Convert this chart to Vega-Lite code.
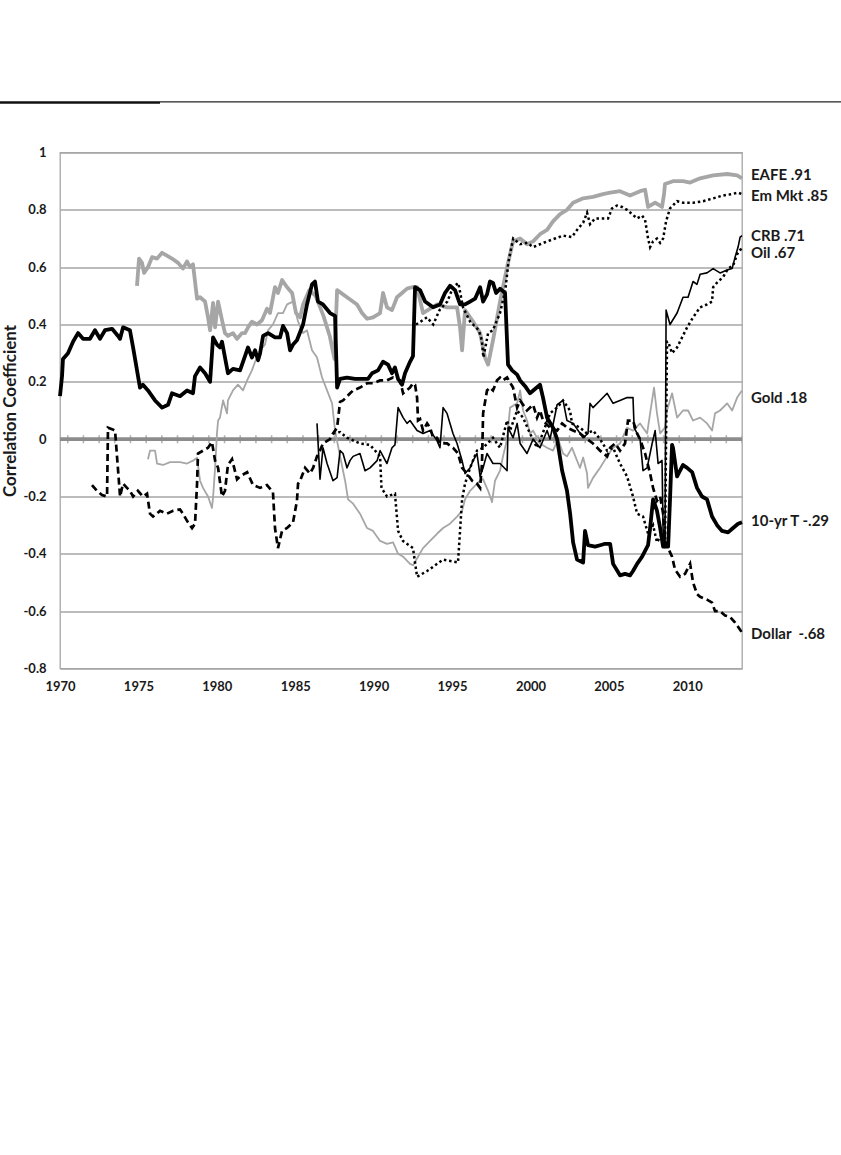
{
  "$schema": "https://vega.github.io/schema/vega-lite/v6.json",
  "background": "white",
  "padding": {"left": 0, "top": 98.3, "right": 0, "bottom": 0},
  "config": {
    "view": {"stroke": null},
    "font": "Lato",
    "axis": {"ticks": false, "domain": false, "labelFont": "Lato", "labelFontWeight": "bold", "labelFontSize": 13, "labelColor": "#1a1a1a", "titleFont": "Lato", "titleFontWeight": "bold", "titleFontSize": 17, "titleColor": "#1a1a1a", "gridColor": "#a6a6a6", "gridWidth": 1.3},
    "axisY": {"labelPadding": 14, "titlePadding": 3},
    "axisX": {"labelPadding": 12}
  },
  "datasets": {
    "eafe": [
      {"year":1974.91,"corr":0.535},{"year":1975.04,"corr":0.63},{"year":1975.23,"corr":0.615},{"year":1975.36,"corr":0.58},{"year":1975.61,"corr":0.60},{"year":1975.87,"corr":0.635},{"year":1976.19,"corr":0.63},{"year":1976.51,"corr":0.65},{"year":1976.82,"corr":0.64},{"year":1977.14,"corr":0.63},{"year":1977.53,"corr":0.615},{"year":1977.84,"corr":0.595},{"year":1978.10,"corr":0.62},{"year":1978.29,"corr":0.60},{"year":1978.48,"corr":0.61},{"year":1978.74,"corr":0.49},{"year":1978.93,"corr":0.495},{"year":1979.25,"corr":0.48},{"year":1979.44,"corr":0.425},{"year":1979.57,"corr":0.38},{"year":1979.76,"corr":0.475},{"year":1979.89,"corr":0.39},{"year":1980.08,"corr":0.48},{"year":1980.33,"corr":0.415},{"year":1980.52,"corr":0.37},{"year":1980.71,"corr":0.36},{"year":1981.03,"corr":0.37},{"year":1981.29,"corr":0.35},{"year":1981.61,"corr":0.37},{"year":1981.80,"corr":0.37},{"year":1981.99,"corr":0.39},{"year":1982.24,"corr":0.41},{"year":1982.56,"corr":0.40},{"year":1982.88,"corr":0.415},{"year":1983.20,"corr":0.455},{"year":1983.39,"corr":0.44},{"year":1983.71,"corr":0.53},{"year":1983.90,"corr":0.51},{"year":1984.16,"corr":0.555},{"year":1984.48,"corr":0.53},{"year":1984.80,"corr":0.51},{"year":1985.05,"corr":0.44},{"year":1985.31,"corr":0.425},{"year":1985.5,"corr":0.47},{"year":1985.9,"corr":0.52},{"year":1986.3,"corr":0.50},{"year":1986.8,"corr":0.43},{"year":1987.2,"corr":0.36},{"year":1987.5,"corr":0.28},{"year":1987.67,"corr":0.52},{"year":1988.30,"corr":0.495},{"year":1988.94,"corr":0.47},{"year":1989.26,"corr":0.44},{"year":1989.58,"corr":0.42},{"year":1989.96,"corr":0.425},{"year":1990.41,"corr":0.44},{"year":1990.60,"corr":0.51},{"year":1990.85,"corr":0.46},{"year":1991.17,"corr":0.45},{"year":1991.49,"corr":0.495},{"year":1991.81,"corr":0.51},{"year":1992.13,"corr":0.525},{"year":1992.45,"corr":0.53},{"year":1992.77,"corr":0.53},{"year":1993.15,"corr":0.44},{"year":1994.04,"corr":0.47},{"year":1994.68,"corr":0.46},{"year":1995.32,"corr":0.46},{"year":1995.51,"corr":0.39},{"year":1995.64,"corr":0.31},{"year":1995.83,"corr":0.45},{"year":1996.34,"corr":0.41},{"year":1996.79,"corr":0.37},{"year":1997.10,"corr":0.285},{"year":1997.30,"corr":0.26},{"year":1997.61,"corr":0.345},{"year":1998.06,"corr":0.48},{"year":1998.51,"corr":0.60},{"year":1998.89,"corr":0.69},{"year":1999.34,"corr":0.70},{"year":1999.78,"corr":0.68},{"year":2000.17,"corr":0.69},{"year":2000.61,"corr":0.715},{"year":2001.06,"corr":0.73},{"year":2001.44,"corr":0.76},{"year":2001.89,"corr":0.785},{"year":2002.33,"corr":0.80},{"year":2002.72,"corr":0.825},{"year":2003.36,"corr":0.84},{"year":2003.99,"corr":0.845},{"year":2004.63,"corr":0.855},{"year":2005.08,"corr":0.86},{"year":2005.71,"corr":0.865},{"year":2006.35,"corr":0.85},{"year":2006.99,"corr":0.865},{"year":2007.31,"corr":0.87},{"year":2007.50,"corr":0.81},{"year":2007.95,"corr":0.825},{"year":2008.39,"corr":0.81},{"year":2008.52,"corr":0.855},{"year":2008.58,"corr":0.89},{"year":2009.09,"corr":0.90},{"year":2009.73,"corr":0.90},{"year":2010.18,"corr":0.895},{"year":2010.82,"corr":0.91},{"year":2011.65,"corr":0.92},{"year":2012.54,"corr":0.925},{"year":2013.18,"corr":0.92},{"year":2013.49,"corr":0.91}
    ],
    "gold": [
      {"year":1975.61,"corr":-0.07},{"year":1975.74,"corr":-0.04},{"year":1976.06,"corr":-0.04},{"year":1976.19,"corr":-0.085},{"year":1976.57,"corr":-0.09},{"year":1977.02,"corr":-0.08},{"year":1977.65,"corr":-0.08},{"year":1978.10,"corr":-0.085},{"year":1978.48,"corr":-0.075},{"year":1978.74,"corr":-0.065},{"year":1978.93,"corr":-0.145},{"year":1979.12,"corr":-0.17},{"year":1979.44,"corr":-0.20},{"year":1979.69,"corr":-0.24},{"year":1979.76,"corr":-0.204},{"year":1979.89,"corr":-0.10},{"year":1980.01,"corr":0.02},{"year":1980.08,"corr":0.065},{"year":1980.20,"corr":0.075},{"year":1980.40,"corr":0.135},{"year":1980.65,"corr":0.09},{"year":1980.71,"corr":0.135},{"year":1981.03,"corr":0.17},{"year":1981.35,"corr":0.19},{"year":1981.67,"corr":0.17},{"year":1981.93,"corr":0.205},{"year":1982.24,"corr":0.24},{"year":1982.44,"corr":0.27},{"year":1982.76,"corr":0.31},{"year":1983.07,"corr":0.33},{"year":1983.27,"corr":0.38},{"year":1983.58,"corr":0.40},{"year":1983.90,"corr":0.44},{"year":1984.22,"corr":0.44},{"year":1984.48,"corr":0.47},{"year":1984.86,"corr":0.48},{"year":1985.18,"corr":0.41},{"year":1985.50,"corr":0.37},{"year":1985.75,"corr":0.38},{"year":1986.07,"corr":0.31},{"year":1986.39,"corr":0.285},{"year":1986.71,"corr":0.215},{"year":1987.03,"corr":0.17},{"year":1987.35,"corr":0.125},{"year":1987.54,"corr":0.03},{"year":1987.86,"corr":-0.06},{"year":1988.18,"corr":-0.145},{"year":1988.37,"corr":-0.21},{"year":1988.69,"corr":-0.225},{"year":1989.13,"corr":-0.26},{"year":1989.58,"corr":-0.31},{"year":1989.96,"corr":-0.32},{"year":1990.41,"corr":-0.355},{"year":1990.85,"corr":-0.365},{"year":1991.24,"corr":-0.36},{"year":1991.56,"corr":-0.40},{"year":1991.88,"corr":-0.41},{"year":1992.32,"corr":-0.435},{"year":1992.51,"corr":-0.44},{"year":1992.83,"corr":-0.41},{"year":1993.15,"corr":-0.38},{"year":1993.60,"corr":-0.355},{"year":1994.04,"corr":-0.33},{"year":1994.43,"corr":-0.31},{"year":1994.87,"corr":-0.295},{"year":1995.32,"corr":-0.27},{"year":1995.64,"corr":-0.25},{"year":1995.83,"corr":-0.21},{"year":1996.15,"corr":-0.18},{"year":1996.59,"corr":-0.155},{"year":1996.79,"corr":-0.145},{"year":1996.98,"corr":-0.14},{"year":1997.30,"corr":-0.18},{"year":1997.55,"corr":-0.22},{"year":1997.74,"corr":-0.145},{"year":1998.06,"corr":-0.11},{"year":1998.25,"corr":-0.06},{"year":1998.51,"corr":0.0},{"year":1998.70,"corr":0.11},{"year":1999.15,"corr":0.125},{"year":1999.34,"corr":0.17},{"year":1999.53,"corr":0.10},{"year":1999.78,"corr":0.065},{"year":1999.97,"corr":0.02},{"year":2000.17,"corr":0.03},{"year":2000.61,"corr":-0.015},{"year":2001.06,"corr":-0.03},{"year":2001.44,"corr":-0.04},{"year":2001.76,"corr":0.0},{"year":2002.08,"corr":-0.05},{"year":2002.33,"corr":-0.06},{"year":2002.65,"corr":-0.03},{"year":2002.97,"corr":-0.075},{"year":2003.16,"corr":-0.10},{"year":2003.36,"corr":-0.064},{"year":2003.61,"corr":-0.12},{"year":2003.67,"corr":-0.17},{"year":2003.99,"corr":-0.135},{"year":2004.44,"corr":-0.10},{"year":2004.89,"corr":-0.06},{"year":2005.27,"corr":-0.03},{"year":2005.71,"corr":-0.015},{"year":2006.16,"corr":0.04},{"year":2006.54,"corr":0.03},{"year":2006.99,"corr":0.055},{"year":2007.44,"corr":0.02},{"year":2007.63,"corr":0.09},{"year":2007.88,"corr":0.18},{"year":2008.07,"corr":0.09},{"year":2008.27,"corr":0.02},{"year":2008.58,"corr":0.04},{"year":2008.71,"corr":0.10},{"year":2009.03,"corr":0.16},{"year":2009.35,"corr":0.075},{"year":2009.73,"corr":0.10},{"year":2010.05,"corr":0.10},{"year":2010.37,"corr":0.065},{"year":2010.82,"corr":0.075},{"year":2011.26,"corr":0.055},{"year":2011.58,"corr":0.03},{"year":2011.77,"corr":0.09},{"year":2012.09,"corr":0.10},{"year":2012.54,"corr":0.125},{"year":2012.86,"corr":0.10},{"year":2013.18,"corr":0.145},{"year":2013.49,"corr":0.17}
    ],
    "em": [
      {"year":1992.7,"corr":0.40},{"year":1993.0,"corr":0.41},{"year":1993.4,"corr":0.425},{"year":1993.8,"corr":0.40},{"year":1994.2,"corr":0.45},{"year":1994.7,"corr":0.48},{"year":1995.06,"corr":0.53},{"year":1995.4,"corr":0.545},{"year":1995.7,"corr":0.46},{"year":1996.15,"corr":0.41},{"year":1996.7,"corr":0.38},{"year":1996.9,"corr":0.345},{"year":1997.0,"corr":0.285},{"year":1997.3,"corr":0.37},{"year":1997.6,"corr":0.38},{"year":1998.06,"corr":0.44},{"year":1998.4,"corr":0.52},{"year":1998.6,"corr":0.62},{"year":1998.9,"corr":0.70},{"year":1999.34,"corr":0.68},{"year":1999.8,"corr":0.685},{"year":2000.17,"corr":0.67},{"year":2000.61,"corr":0.68},{"year":2001.06,"corr":0.69},{"year":2001.57,"corr":0.70},{"year":2002.08,"corr":0.71},{"year":2002.65,"corr":0.705},{"year":2002.97,"corr":0.73},{"year":2003.36,"corr":0.755},{"year":2003.61,"corr":0.79},{"year":2003.80,"corr":0.75},{"year":2004.12,"corr":0.77},{"year":2004.57,"corr":0.77},{"year":2004.95,"corr":0.77},{"year":2005.20,"corr":0.805},{"year":2005.52,"corr":0.815},{"year":2005.84,"corr":0.81},{"year":2006.16,"corr":0.80},{"year":2006.48,"corr":0.785},{"year":2006.80,"corr":0.77},{"year":2007.12,"corr":0.78},{"year":2007.31,"corr":0.765},{"year":2007.50,"corr":0.70},{"year":2007.63,"corr":0.67},{"year":2007.82,"corr":0.69},{"year":2008.07,"corr":0.70},{"year":2008.27,"corr":0.685},{"year":2008.46,"corr":0.70},{"year":2008.65,"corr":0.76},{"year":2008.90,"corr":0.805},{"year":2009.35,"corr":0.83},{"year":2009.73,"corr":0.825},{"year":2010.37,"corr":0.825},{"year":2011.01,"corr":0.83},{"year":2011.65,"corr":0.84},{"year":2012.28,"corr":0.85},{"year":2012.86,"corr":0.855},{"year":2013.24,"corr":0.86},{"year":2013.49,"corr":0.855}
    ],
    "oil": [
      {"year":1987.41,"corr":0.02},{"year":1987.86,"corr":0.025},{"year":1988.30,"corr":0.005},{"year":1989.13,"corr":-0.015},{"year":1989.77,"corr":-0.02},{"year":1990.41,"corr":-0.06},{"year":1990.5,"corr":-0.17},{"year":1990.85,"corr":-0.20},{"year":1991.36,"corr":-0.19},{"year":1991.56,"corr":-0.32},{"year":1991.87,"corr":-0.355},{"year":1992.51,"corr":-0.38},{"year":1992.77,"corr":-0.48},{"year":1993.41,"corr":-0.46},{"year":1994.43,"corr":-0.42},{"year":1995.38,"corr":-0.43},{"year":1995.64,"corr":-0.21},{"year":1995.83,"corr":-0.155},{"year":1996.15,"corr":-0.10},{"year":1996.59,"corr":-0.04},{"year":1996.98,"corr":-0.03},{"year":1997.61,"corr":0.005},{"year":1998.06,"corr":-0.03},{"year":1998.51,"corr":0.065},{"year":1998.70,"corr":0.03},{"year":1999.15,"corr":0.10},{"year":1999.53,"corr":0.075},{"year":1999.97,"corr":0.02},{"year":2000.42,"corr":-0.03},{"year":2000.61,"corr":-0.005},{"year":2001.25,"corr":0.09},{"year":2001.70,"corr":0.11},{"year":2002.08,"corr":0.135},{"year":2002.52,"corr":0.10},{"year":2002.65,"corr":0.055},{"year":2003.16,"corr":0.04},{"year":2003.61,"corr":0.02},{"year":2003.99,"corr":0.03},{"year":2004.44,"corr":0.0},{"year":2004.89,"corr":-0.04},{"year":2005.27,"corr":-0.03},{"year":2005.71,"corr":-0.085},{"year":2006.16,"corr":-0.13},{"year":2006.54,"corr":-0.20},{"year":2006.80,"corr":-0.26},{"year":2007.18,"corr":-0.27},{"year":2007.50,"corr":-0.33},{"year":2007.82,"corr":-0.30},{"year":2008.07,"corr":-0.36},{"year":2008.39,"corr":-0.33},{"year":2008.58,"corr":-0.38},{"year":2008.71,"corr":0.34},{"year":2008.78,"corr":0.34},{"year":2009.03,"corr":0.30},{"year":2009.35,"corr":0.32},{"year":2009.67,"corr":0.355},{"year":2009.99,"corr":0.39},{"year":2010.37,"corr":0.425},{"year":2010.82,"corr":0.46},{"year":2011.26,"corr":0.47},{"year":2011.58,"corr":0.48},{"year":2011.65,"corr":0.53},{"year":2011.96,"corr":0.55},{"year":2012.28,"corr":0.565},{"year":2012.60,"corr":0.595},{"year":2012.92,"corr":0.605},{"year":2013.18,"corr":0.645},{"year":2013.37,"corr":0.66},{"year":2013.49,"corr":0.665}
    ],
    "crb": [
      {"year":1986.39,"corr":0.055},{"year":1986.58,"corr":-0.14},{"year":1986.77,"corr":-0.03},{"year":1987.03,"corr":-0.085},{"year":1987.41,"corr":-0.145},{"year":1987.67,"corr":-0.134},{"year":1987.86,"corr":-0.04},{"year":1988.05,"corr":-0.05},{"year":1988.30,"corr":-0.10},{"year":1988.50,"corr":-0.074},{"year":1988.69,"corr":-0.06},{"year":1989.13,"corr":-0.05},{"year":1989.45,"corr":-0.11},{"year":1989.77,"corr":-0.10},{"year":1990.22,"corr":-0.075},{"year":1990.41,"corr":-0.04},{"year":1990.85,"corr":-0.085},{"year":1991.17,"corr":-0.03},{"year":1991.36,"corr":-0.02},{"year":1991.56,"corr":0.11},{"year":1991.88,"corr":0.075},{"year":1992.13,"corr":0.055},{"year":1992.32,"corr":0.065},{"year":1992.77,"corr":0.03},{"year":1993.15,"corr":0.02},{"year":1993.60,"corr":0.03},{"year":1994.04,"corr":-0.005},{"year":1994.23,"corr":-0.03},{"year":1994.43,"corr":0.11},{"year":1994.68,"corr":0.09},{"year":1994.87,"corr":0.055},{"year":1995.06,"corr":0.02},{"year":1995.32,"corr":-0.015},{"year":1995.64,"corr":-0.075},{"year":1995.83,"corr":-0.12},{"year":1996.15,"corr":-0.10},{"year":1996.34,"corr":-0.075},{"year":1996.59,"corr":-0.05},{"year":1996.79,"corr":-0.13},{"year":1996.98,"corr":-0.10},{"year":1997.23,"corr":-0.05},{"year":1997.61,"corr":-0.085},{"year":1998.06,"corr":-0.085},{"year":1998.51,"corr":-0.11},{"year":1998.57,"corr":0.04},{"year":1998.89,"corr":0.005},{"year":1999.15,"corr":0.055},{"year":1999.34,"corr":-0.015},{"year":1999.78,"corr":-0.05},{"year":2000.17,"corr":0.0},{"year":2000.61,"corr":-0.03},{"year":2001.06,"corr":0.03},{"year":2001.25,"corr":0.0},{"year":2001.70,"corr":0.12},{"year":2002.08,"corr":0.135},{"year":2002.33,"corr":0.065},{"year":2002.72,"corr":0.055},{"year":2003.36,"corr":0.005},{"year":2003.67,"corr":0.02},{"year":2003.80,"corr":0.125},{"year":2003.99,"corr":0.11},{"year":2004.44,"corr":0.135},{"year":2004.89,"corr":0.16},{"year":2005.27,"corr":0.125},{"year":2005.71,"corr":0.135},{"year":2006.16,"corr":0.145},{"year":2006.54,"corr":0.145},{"year":2006.61,"corr":0.04},{"year":2006.99,"corr":0.0},{"year":2007.18,"corr":-0.11},{"year":2007.44,"corr":-0.10},{"year":2007.76,"corr":-0.015},{"year":2007.95,"corr":0.03},{"year":2008.14,"corr":-0.085},{"year":2008.39,"corr":-0.074},{"year":2008.46,"corr":-0.32},{"year":2008.58,"corr":-0.375},{"year":2008.65,"corr":0.45},{"year":2008.90,"corr":0.40},{"year":2009.35,"corr":0.44},{"year":2009.73,"corr":0.495},{"year":2010.05,"corr":0.495},{"year":2010.37,"corr":0.55},{"year":2010.62,"corr":0.54},{"year":2010.82,"corr":0.575},{"year":2011.26,"corr":0.58},{"year":2011.65,"corr":0.595},{"year":2012.09,"corr":0.58},{"year":2012.54,"corr":0.59},{"year":2012.86,"corr":0.595},{"year":2013.05,"corr":0.635},{"year":2013.24,"corr":0.67},{"year":2013.37,"corr":0.705},{"year":2013.49,"corr":0.71}
    ],
    "usd": [
      {"year":1972.04,"corr":-0.16},{"year":1972.36,"corr":-0.18},{"year":1972.68,"corr":-0.195},{"year":1973.00,"corr":-0.20},{"year":1973.06,"corr":0.04},{"year":1973.32,"corr":0.035},{"year":1973.51,"corr":0.03},{"year":1973.83,"corr":-0.20},{"year":1974.02,"corr":-0.155},{"year":1974.27,"corr":-0.17},{"year":1974.46,"corr":-0.18},{"year":1974.66,"corr":-0.20},{"year":1974.97,"corr":-0.18},{"year":1975.29,"corr":-0.20},{"year":1975.55,"corr":-0.19},{"year":1975.74,"corr":-0.26},{"year":1975.93,"corr":-0.27},{"year":1976.38,"corr":-0.25},{"year":1976.82,"corr":-0.26},{"year":1977.21,"corr":-0.25},{"year":1977.65,"corr":-0.245},{"year":1977.84,"corr":-0.26},{"year":1978.10,"corr":-0.285},{"year":1978.42,"corr":-0.31},{"year":1978.61,"corr":-0.295},{"year":1978.74,"corr":-0.155},{"year":1978.80,"corr":-0.05},{"year":1979.12,"corr":-0.04},{"year":1979.44,"corr":-0.03},{"year":1979.69,"corr":-0.01},{"year":1979.89,"corr":-0.075},{"year":1980.08,"corr":-0.10},{"year":1980.33,"corr":-0.20},{"year":1980.52,"corr":-0.18},{"year":1980.71,"corr":-0.09},{"year":1980.97,"corr":-0.07},{"year":1981.29,"corr":-0.14},{"year":1981.48,"corr":-0.13},{"year":1981.93,"corr":-0.115},{"year":1982.31,"corr":-0.16},{"year":1982.76,"corr":-0.17},{"year":1983.20,"corr":-0.16},{"year":1983.58,"corr":-0.185},{"year":1983.71,"corr":-0.31},{"year":1983.90,"corr":-0.38},{"year":1984.16,"corr":-0.32},{"year":1984.48,"corr":-0.31},{"year":1984.86,"corr":-0.29},{"year":1985.11,"corr":-0.215},{"year":1985.18,"corr":-0.155},{"year":1985.31,"corr":-0.145},{"year":1985.63,"corr":-0.10},{"year":1985.94,"corr":-0.12},{"year":1986.14,"corr":-0.10},{"year":1986.39,"corr":-0.06},{"year":1986.58,"corr":-0.04},{"year":1986.77,"corr":-0.015},{"year":1987.22,"corr":0.0},{"year":1987.41,"corr":0.02},{"year":1987.67,"corr":0.04},{"year":1987.86,"corr":0.13},{"year":1988.05,"corr":0.135},{"year":1988.50,"corr":0.16},{"year":1988.69,"corr":0.17},{"year":1989.13,"corr":0.18},{"year":1989.58,"corr":0.195},{"year":1989.96,"corr":0.195},{"year":1990.41,"corr":0.205},{"year":1990.85,"corr":0.205},{"year":1991.24,"corr":0.215},{"year":1991.68,"corr":0.205},{"year":1991.88,"corr":0.16},{"year":1992.32,"corr":0.18},{"year":1992.51,"corr":0.195},{"year":1992.64,"corr":0.19},{"year":1992.77,"corr":0.145},{"year":1992.83,"corr":0.065},{"year":1992.96,"corr":0.07},{"year":1993.15,"corr":0.03},{"year":1993.41,"corr":0.055},{"year":1993.60,"corr":0.04},{"year":1993.79,"corr":0.005},{"year":1994.04,"corr":0.005},{"year":1994.23,"corr":-0.015},{"year":1994.68,"corr":-0.015},{"year":1995.06,"corr":-0.03},{"year":1995.38,"corr":-0.05},{"year":1995.64,"corr":-0.10},{"year":1995.96,"corr":-0.12},{"year":1996.28,"corr":-0.145},{"year":1996.59,"corr":-0.155},{"year":1996.79,"corr":-0.17},{"year":1996.91,"corr":-0.085},{"year":1996.98,"corr":0.09},{"year":1997.23,"corr":0.17},{"year":1997.42,"corr":0.18},{"year":1997.61,"corr":0.17},{"year":1997.87,"corr":0.205},{"year":1998.06,"corr":0.215},{"year":1998.25,"corr":0.205},{"year":1998.51,"corr":0.215},{"year":1998.89,"corr":0.18},{"year":1999.15,"corr":0.11},{"year":1999.34,"corr":0.135},{"year":1999.78,"corr":0.10},{"year":2000.17,"corr":0.12},{"year":2000.42,"corr":0.075},{"year":2000.61,"corr":0.10},{"year":2000.80,"corr":0.065},{"year":2001.25,"corr":0.04},{"year":2001.70,"corr":0.03},{"year":2002.02,"corr":0.055},{"year":2002.33,"corr":0.04},{"year":2002.72,"corr":0.03},{"year":2003.16,"corr":0.02},{"year":2003.61,"corr":0.0},{"year":2003.99,"corr":-0.015},{"year":2004.44,"corr":-0.04},{"year":2004.89,"corr":-0.06},{"year":2005.08,"corr":-0.03},{"year":2005.40,"corr":-0.015},{"year":2005.71,"corr":-0.04},{"year":2006.03,"corr":-0.015},{"year":2006.22,"corr":0.065},{"year":2006.54,"corr":0.065},{"year":2006.80,"corr":0.02},{"year":2006.99,"corr":0.0},{"year":2007.31,"corr":-0.05},{"year":2007.63,"corr":-0.12},{"year":2007.82,"corr":-0.17},{"year":2008.07,"corr":-0.215},{"year":2008.27,"corr":-0.20},{"year":2008.46,"corr":-0.26},{"year":2008.58,"corr":-0.355},{"year":2008.78,"corr":-0.38},{"year":2009.03,"corr":-0.41},{"year":2009.22,"corr":-0.455},{"year":2009.54,"corr":-0.48},{"year":2009.86,"corr":-0.47},{"year":2010.18,"corr":-0.435},{"year":2010.37,"corr":-0.50},{"year":2010.62,"corr":-0.54},{"year":2010.82,"corr":-0.55},{"year":2011.26,"corr":-0.56},{"year":2011.58,"corr":-0.57},{"year":2011.77,"corr":-0.60},{"year":2012.09,"corr":-0.60},{"year":2012.41,"corr":-0.615},{"year":2012.73,"corr":-0.62},{"year":2013.05,"corr":-0.64},{"year":2013.37,"corr":-0.665},{"year":2013.49,"corr":-0.675}
    ],
    "t10": [
      {"year":1970.0,"corr":0.15},{"year":1970.13,"corr":0.22},{"year":1970.19,"corr":0.28},{"year":1970.51,"corr":0.30},{"year":1970.83,"corr":0.34},{"year":1971.15,"corr":0.37},{"year":1971.47,"corr":0.35},{"year":1971.91,"corr":0.35},{"year":1972.23,"corr":0.38},{"year":1972.55,"corr":0.35},{"year":1972.87,"corr":0.38},{"year":1973.32,"corr":0.385},{"year":1973.70,"corr":0.36},{"year":1973.83,"corr":0.35},{"year":1974.02,"corr":0.39},{"year":1974.46,"corr":0.38},{"year":1974.66,"corr":0.32},{"year":1975.10,"corr":0.18},{"year":1975.29,"corr":0.19},{"year":1975.61,"corr":0.17},{"year":1976.06,"corr":0.135},{"year":1976.51,"corr":0.11},{"year":1976.89,"corr":0.12},{"year":1977.14,"corr":0.16},{"year":1977.65,"corr":0.15},{"year":1978.10,"corr":0.17},{"year":1978.48,"corr":0.16},{"year":1978.61,"corr":0.22},{"year":1978.93,"corr":0.25},{"year":1979.25,"corr":0.23},{"year":1979.57,"corr":0.20},{"year":1979.76,"corr":0.355},{"year":1980.01,"corr":0.33},{"year":1980.20,"corr":0.32},{"year":1980.33,"corr":0.34},{"year":1980.71,"corr":0.23},{"year":1981.03,"corr":0.245},{"year":1981.48,"corr":0.24},{"year":1981.67,"corr":0.27},{"year":1981.99,"corr":0.32},{"year":1982.24,"corr":0.285},{"year":1982.44,"corr":0.31},{"year":1982.63,"corr":0.275},{"year":1982.76,"corr":0.30},{"year":1982.95,"corr":0.36},{"year":1983.27,"corr":0.37},{"year":1983.71,"corr":0.355},{"year":1984.03,"corr":0.355},{"year":1984.22,"corr":0.395},{"year":1984.48,"corr":0.37},{"year":1984.67,"corr":0.31},{"year":1984.86,"corr":0.33},{"year":1985.11,"corr":0.345},{"year":1985.50,"corr":0.40},{"year":1985.75,"corr":0.47},{"year":1986.07,"corr":0.54},{"year":1986.26,"corr":0.55},{"year":1986.45,"corr":0.48},{"year":1986.77,"corr":0.47},{"year":1987.22,"corr":0.44},{"year":1987.54,"corr":0.43},{"year":1987.67,"corr":0.18},{"year":1987.86,"corr":0.21},{"year":1988.30,"corr":0.215},{"year":1988.81,"corr":0.21},{"year":1989.26,"corr":0.21},{"year":1989.64,"corr":0.21},{"year":1989.90,"corr":0.23},{"year":1990.28,"corr":0.24},{"year":1990.60,"corr":0.27},{"year":1990.92,"corr":0.26},{"year":1991.17,"corr":0.23},{"year":1991.36,"corr":0.25},{"year":1991.56,"corr":0.21},{"year":1991.81,"corr":0.19},{"year":1992.00,"corr":0.23},{"year":1992.32,"corr":0.27},{"year":1992.51,"corr":0.29},{"year":1992.64,"corr":0.53},{"year":1992.96,"corr":0.52},{"year":1993.28,"corr":0.48},{"year":1993.79,"corr":0.46},{"year":1994.23,"corr":0.47},{"year":1994.55,"corr":0.51},{"year":1994.87,"corr":0.535},{"year":1995.19,"corr":0.52},{"year":1995.51,"corr":0.47},{"year":1995.83,"corr":0.47},{"year":1996.15,"corr":0.48},{"year":1996.47,"corr":0.49},{"year":1996.79,"corr":0.53},{"year":1996.98,"corr":0.48},{"year":1997.23,"corr":0.505},{"year":1997.42,"corr":0.55},{"year":1997.61,"corr":0.545},{"year":1997.81,"corr":0.51},{"year":1998.06,"corr":0.525},{"year":1998.38,"corr":0.51},{"year":1998.57,"corr":0.26},{"year":1998.83,"corr":0.24},{"year":1999.15,"corr":0.225},{"year":1999.34,"corr":0.205},{"year":1999.66,"corr":0.185},{"year":1999.97,"corr":0.16},{"year":2000.29,"corr":0.175},{"year":2000.61,"corr":0.19},{"year":2000.80,"corr":0.145},{"year":2001.06,"corr":0.075},{"year":2001.44,"corr":0.04},{"year":2001.70,"corr":0.0},{"year":2002.02,"corr":-0.11},{"year":2002.33,"corr":-0.18},{"year":2002.53,"corr":-0.26},{"year":2002.72,"corr":-0.36},{"year":2002.97,"corr":-0.42},{"year":2003.36,"corr":-0.43},{"year":2003.48,"corr":-0.32},{"year":2003.67,"corr":-0.37},{"year":2004.12,"corr":-0.375},{"year":2004.44,"corr":-0.37},{"year":2004.76,"corr":-0.365},{"year":2005.08,"corr":-0.365},{"year":2005.27,"corr":-0.435},{"year":2005.71,"corr":-0.475},{"year":2006.03,"corr":-0.47},{"year":2006.35,"corr":-0.475},{"year":2006.54,"corr":-0.46},{"year":2006.80,"corr":-0.435},{"year":2007.12,"corr":-0.41},{"year":2007.31,"corr":-0.39},{"year":2007.50,"corr":-0.37},{"year":2007.63,"corr":-0.31},{"year":2007.82,"corr":-0.21},{"year":2008.07,"corr":-0.25},{"year":2008.27,"corr":-0.31},{"year":2008.46,"corr":-0.375},{"year":2008.78,"corr":-0.375},{"year":2008.90,"corr":-0.21},{"year":2009.03,"corr":-0.02},{"year":2009.09,"corr":-0.03},{"year":2009.35,"corr":-0.13},{"year":2009.54,"corr":-0.11},{"year":2009.73,"corr":-0.09},{"year":2009.99,"corr":-0.10},{"year":2010.31,"corr":-0.115},{"year":2010.62,"corr":-0.17},{"year":2010.94,"corr":-0.20},{"year":2011.26,"corr":-0.21},{"year":2011.58,"corr":-0.27},{"year":2011.90,"corr":-0.30},{"year":2012.22,"corr":-0.32},{"year":2012.60,"corr":-0.325},{"year":2012.92,"corr":-0.31},{"year":2013.24,"corr":-0.295},{"year":2013.49,"corr":-0.29}
    ],
    "labels": [
      {"label":"EAFE .91","year":2013.49,"corr":0.92},
      {"label":"Em Mkt .85","year":2013.49,"corr":0.847},
      {"label":"CRB .71","year":2013.49,"corr":0.71},
      {"label":"Oil .67","year":2013.49,"corr":0.648},
      {"label":"Gold .18","year":2013.49,"corr":0.145},
      {"label":"10-yr T -.29","year":2013.49,"corr":-0.287},
      {"label":"Dollar\u00a0 -.68","year":2013.49,"corr":-0.678}
    ],
    "zero": [{"corr": 0}]
  },
  "concat": [
    {"width": 60, "height": 2.5, "data": {"values": [{}]}, "mark": {"type": "point", "opacity": 0}, "view": {"fill": "#111111", "stroke": null}},
    {
      "hconcat": [
        {"width": 100, "height": 2.5, "data": {"values": [{}]}, "mark": {"type": "point", "opacity": 0}, "view": {"fill": "#111111", "stroke": null}},
        {"width": 681, "height": 1.3, "data": {"values": [{}]}, "mark": {"type": "point", "opacity": 0}, "view": {"fill": "#222222", "stroke": null}}
      ],
      "spacing": 0
    },
    {"width": 60, "height": 1, "data": {"values": [{}]}, "mark": {"type": "point", "opacity": 0}},
    {
      "width": 682,
      "height": 516,
      "view": {"stroke": "#a6a6a6", "strokeWidth": 1.3},
      "layer": [
        {"data": {"name": "zero"}, "mark": {"type": "rule", "color": "#b3b3b3", "strokeWidth": 8, "strokeDash": [1.6, 14.08], "strokeDashOffset": 0.8}, "encoding": {"y": {"field": "corr", "type": "quantitative"}}},
        {"data": {"name": "zero"}, "mark": {"type": "rule", "color": "#8c8c8c", "strokeWidth": 3.8}, "encoding": {"y": {"field": "corr", "type": "quantitative"}}},
        {
          "data": {"name": "eafe"},
          "mark": {"type": "line", "color": "#a6a6a6", "strokeWidth": 3.8, "strokeJoin": "round"},
          "encoding": {
            "x": {"field": "year", "type": "quantitative", "scale": {"domain": [1970, 2013.49], "nice": false, "zero": false}, "axis": {"values": [1970, 1975, 1980, 1985, 1990, 1995, 2000, 2005, 2010], "format": "d", "title": null, "grid": false, "labelFlush": false}},
            "y": {"field": "corr", "type": "quantitative", "scale": {"domain": [-0.8, 1], "nice": false, "zero": false}, "axis": {"values": [-0.8, -0.6, -0.4, -0.2, 0, 0.2, 0.4, 0.6, 0.8, 1], "title": "Correlation Coefficient", "labelExpr": "replace(format(datum.value, '.1~f'), '\u2212', '-')"}}
          }
        },
        {"data": {"name": "gold"}, "mark": {"type": "line", "color": "#a6a6a6", "strokeWidth": 1.8, "strokeJoin": "round"}, "encoding": {"x": {"field": "year", "type": "quantitative"}, "y": {"field": "corr", "type": "quantitative"}}},
        {"data": {"name": "em"}, "mark": {"type": "line", "color": "#000000", "strokeWidth": 2.5, "strokeDash": [2.5, 2.8]}, "encoding": {"x": {"field": "year", "type": "quantitative"}, "y": {"field": "corr", "type": "quantitative"}}},
        {"data": {"name": "oil"}, "mark": {"type": "line", "color": "#000000", "strokeWidth": 2.5, "strokeDash": [2.5, 2.8]}, "encoding": {"x": {"field": "year", "type": "quantitative"}, "y": {"field": "corr", "type": "quantitative"}}},
        {"data": {"name": "crb"}, "mark": {"type": "line", "color": "#000000", "strokeWidth": 1.6, "strokeJoin": "round"}, "encoding": {"x": {"field": "year", "type": "quantitative"}, "y": {"field": "corr", "type": "quantitative"}}},
        {"data": {"name": "usd"}, "mark": {"type": "line", "color": "#000000", "strokeWidth": 2.7, "strokeDash": [7, 4]}, "encoding": {"x": {"field": "year", "type": "quantitative"}, "y": {"field": "corr", "type": "quantitative"}}},
        {"data": {"name": "t10"}, "mark": {"type": "line", "color": "#000000", "strokeWidth": 3.8, "strokeJoin": "round"}, "encoding": {"x": {"field": "year", "type": "quantitative"}, "y": {"field": "corr", "type": "quantitative"}}},
        {"data": {"name": "labels"}, "mark": {"type": "text", "align": "left", "baseline": "middle", "dx": 9, "font": "Lato", "fontSize": 15, "fontWeight": "bold", "color": "#1a1a1a"}, "encoding": {"x": {"field": "year", "type": "quantitative"}, "y": {"field": "corr", "type": "quantitative"}, "text": {"field": "label"}}}
      ]
    }
  ],
  "columns": 2,
  "bounds": "flush",
  "spacing": {"row": 48.2, "column": 0}
}
